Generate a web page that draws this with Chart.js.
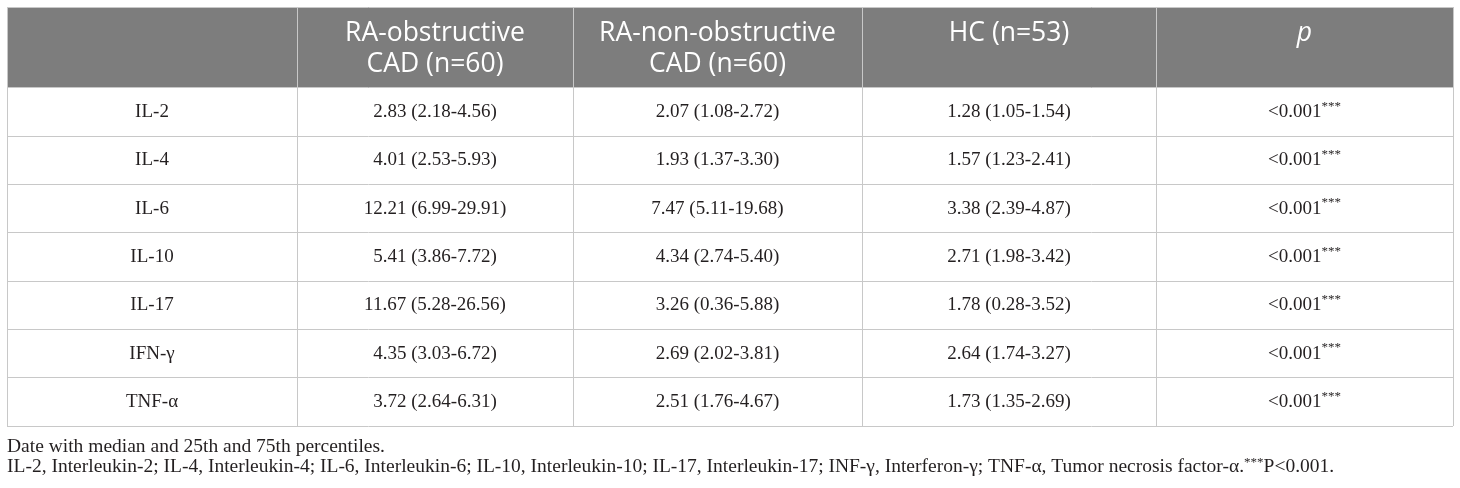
<!DOCTYPE html>
<html>
<head>
<meta charset="utf-8">
<script src="https://cdn.jsdelivr.net/npm/chart.js@4.4.1/dist/chart.umd.min.js"></script>
<style>
  html, body { margin: 0; padding: 0; background: #fff; }
  #wrap { position: relative; width: 1460px; height: 488px; }
</style>
</head>
<body>
<div id="wrap"><canvas id="cytokines"></canvas></div>
<script>
// table content
const markers = ['IL-2', 'IL-4', 'IL-6', 'IL-10', 'IL-17', 'IFN-γ', 'TNF-α'];
const headers = ['', 'RA-obstructive\nCAD (n=60)', 'RA-non-obstructive\nCAD (n=60)', 'HC (n=53)', 'p'];

const obstructiveMedian = [2.83, 4.01, 12.21, 5.41, 11.67, 4.35, 3.72];
const obstructiveQ1 = [2.18, 2.53, 6.99, 3.86, 5.28, 3.03, 2.64];
const obstructiveQ3 = [4.56, 5.93, 29.91, 7.72, 26.56, 6.72, 6.31];

const nonObstructiveMedian = [2.07, 1.93, 7.47, 4.34, 3.26, 2.69, 2.51];
const nonObstructiveQ1 = [1.08, 1.37, 5.11, 2.74, 0.36, 2.02, 1.76];
const nonObstructiveQ3 = [2.72, 3.30, 19.68, 5.40, 5.88, 3.81, 4.67];

const hcMedian = [1.28, 1.57, 3.38, 2.71, 1.78, 2.64, 1.73];
const hcQ1 = [1.05, 1.23, 2.39, 1.98, 0.28, 1.74, 1.35];
const hcQ3 = [1.54, 2.41, 4.87, 3.42, 3.52, 3.27, 2.69];

const pValues = ['<0.001***', '<0.001***', '<0.001***', '<0.001***', '<0.001***', '<0.001***', '<0.001***'];

const footnote1 = 'Date with median and 25th and 75th percentiles.';
const footnote2 = 'IL-2, Interleukin-2; IL-4, Interleukin-4; IL-6, Interleukin-6; IL-10, Interleukin-10; IL-17, Interleukin-17; INF-γ, Interferon-γ; TNF-α, Tumor necrosis factor-α.***P<0.001.';

// layout
const colWidths = [290, 276, 289, 294, 297];
const headerH = 81;
const rowH = 48.3;
const serif = '"Liberation Serif", "Times New Roman", serif';
const sans = '"Open Sans", "Noto Sans", sans-serif';

const fmt = (m, lo, hi) => m.map((v, i) => v.toFixed(2) + ' (' + lo[i].toFixed(2) + '-' + hi[i].toFixed(2) + ')');

const columns = [
    markers,
    fmt(obstructiveMedian, obstructiveQ1, obstructiveQ3),
    fmt(nonObstructiveMedian, nonObstructiveQ1, nonObstructiveQ3),
    fmt(hcMedian, hcQ1, hcQ3),
    pValues
];

const colEdges = [0];
colWidths.forEach(w => colEdges.push(colEdges[colEdges.length - 1] + w));
const colMid = colWidths.map((w, i) => colEdges[i] + w / 2);
const rowEdges = [0, headerH];
markers.forEach(() => rowEdges.push(rowEdges[rowEdges.length - 1] + rowH));
const tableH = rowEdges[rowEdges.length - 1];

const datasets = [{
    label: 'header',
    isHeader: true,
    cells: headers,
    data: headers.map((h, c) => ({ x: colMid[c], y: 0 })),
    pointRadius: 0
}];
columns.forEach((col, c) => {
    datasets.push({
        label: headers[c] || 'marker',
        cells: col,
        data: col.map((v, r) => ({ x: colMid[c], y: headerH + rowH * (r + 0.5) })),
        pointRadius: 0
    });
});

// draws "text***" with the stars raised and smaller
function drawWithStars(ctx, text, x, y, size, align) {
    const m = text.match(/^(.*?)(\*+)(.*)$/);
    const base = m ? m[1] : text;
    const stars = m ? m[2] : '';
    const rest = m ? m[3] : '';
    const small = Math.round(size * 0.68);
    ctx.font = size + 'px ' + serif;
    const wBase = ctx.measureText(base).width;
    const wRest = ctx.measureText(rest).width;
    ctx.font = small + 'px ' + serif;
    const wStars = ctx.measureText(stars).width;
    let sx = align === 'center' ? x - (wBase + wStars + wRest) / 2 : x;
    ctx.textAlign = 'left';
    ctx.font = size + 'px ' + serif;
    ctx.fillText(base, sx, y);
    sx += wBase;
    if (stars) {
        ctx.font = small + 'px ' + serif;
        ctx.fillText(stars, sx, y - size * 0.3);
        sx += wStars;
        ctx.font = size + 'px ' + serif;
        ctx.fillText(rest, sx, y);
    }
}

const tablePlugin = {
    id: 'tableCells',
    beforeDraw(chart) {
        const { ctx, chartArea, scales: { y } } = chart;
        ctx.save();
        ctx.fillStyle = '#7d7d7d';
        ctx.fillRect(chartArea.left, chartArea.top, chartArea.right - chartArea.left, y.getPixelForValue(headerH) - chartArea.top);
        ctx.restore();
    },
    afterDatasetsDraw(chart) {
        const ctx = chart.ctx;
        ctx.save();
        chart.data.datasets.forEach((ds, i) => {
            const meta = chart.getDatasetMeta(i);
            meta.data.forEach((pt, j) => {
                const txt = ds.cells[j];
                if (!txt) return;
                if (ds.isHeader) {
                    ctx.fillStyle = '#ffffff';
                    ctx.textAlign = 'center';
                    ctx.textBaseline = 'middle';
                    ctx.font = (txt === 'p' ? 'italic ' : '') + '26.5px ' + sans;
                    txt.split('\n').forEach((line, k) => {
                        ctx.fillText(line, pt.x, pt.y + 26 + k * 31);
                    });
                } else {
                    ctx.fillStyle = '#231f20';
                    ctx.textBaseline = 'middle';
                    drawWithStars(ctx, txt, pt.x, pt.y, 19, 'center');
                }
            });
        });
        ctx.restore();
    },
    afterDraw(chart) {
        const { ctx, chartArea } = chart;
        ctx.save();
        ctx.fillStyle = '#231f20';
        ctx.textBaseline = 'alphabetic';
        ctx.textAlign = 'left';
        ctx.font = '19.5px ' + serif;
        ctx.fillText(footnote1, chartArea.left, chartArea.bottom + 26);
        drawWithStars(ctx, footnote2, chartArea.left, chartArea.bottom + 46, 19.5, 'left');
        ctx.restore();
    }
};

const gridOpts = { color: '#c8c8c8', lineWidth: 1, drawTicks: false };

new Chart(document.getElementById('cytokines'), {
    type: 'scatter',
    data: { datasets },
    options: {
        responsive: true,
        maintainAspectRatio: false,
        animation: false,
        events: [],
        layout: { padding: { left: 7, right: 7, top: 7, bottom: 62 } },
        plugins: {
            legend: { display: false },
            tooltip: { enabled: false }
        },
        scales: {
            x: {
                type: 'linear',
                min: 0,
                max: colEdges[colEdges.length - 1],
                afterBuildTicks: s => { s.ticks = colEdges.map(v => ({ value: v })); },
                grid: gridOpts,
                border: { display: false },
                ticks: { display: false }
            },
            y: {
                type: 'linear',
                reverse: true,
                min: 0,
                max: tableH,
                afterBuildTicks: s => { s.ticks = rowEdges.map(v => ({ value: v })); },
                grid: gridOpts,
                border: { display: false },
                ticks: { display: false }
            }
        }
    },
    plugins: [tablePlugin]
});
</script>
</body>
</html>
